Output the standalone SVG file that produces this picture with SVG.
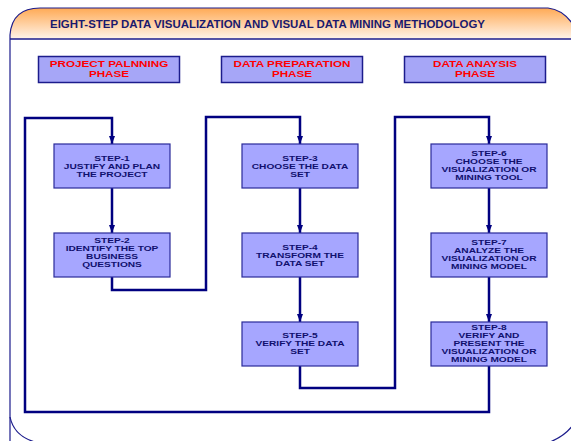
<svg xmlns="http://www.w3.org/2000/svg" width="571" height="441" viewBox="0 0 571 441">
<defs>
  <linearGradient id="hdr" x1="0" y1="0" x2="0" y2="1">
    <stop offset="0" stop-color="#ffaa55"/>
    <stop offset="1" stop-color="#fff4ea"/>
  </linearGradient>
  <marker id="arr" markerWidth="8" markerHeight="6" refX="8" refY="3" orient="auto" markerUnits="userSpaceOnUse">
    <path d="M0,0 L8,3 L0,6 Z" fill="#000080"/>
  </marker>
</defs>
<style>
  .frame{fill:none;stroke:#1c1c8c;stroke-width:1.2}
  .title{font-family:"Liberation Sans",Arial,sans-serif;font-weight:bold;font-size:10px;fill:#1a1a6e}
  .phase rect{fill:#a6a6f7;stroke:#1c1c8c;stroke-width:1.5}
  .phase text{font-family:"Liberation Sans",Arial,sans-serif;font-weight:bold;font-size:9px;fill:#ff0000;text-anchor:middle}
  .step rect{fill:#a6a6ff;stroke:#2a2a99;stroke-width:1.2}
  .step text{font-family:"Liberation Sans",Arial,sans-serif;font-weight:bold;font-size:8px;fill:#10106e;text-anchor:middle}
  .conn path{fill:none;stroke:#000080;stroke-width:2.5}
</style>
<rect width="571" height="441" fill="#ffffff"/>
<g id="frame">
  <path d="M10,39 L10,35 Q12,8 40,8 L548,8 Q565,10 575,28 L575,39 Z" fill="url(#hdr)" stroke="none"/>
  <path class="frame" d="M10,441 L10,39 L10,35 Q12,8 40,8 L548,8 Q565,10 575,28"/>
  <path class="frame" d="M10,417 Q14,436 35,442"/>
  <path class="frame" d="M550,442 Q565,436 573,425"/>
  <line x1="10" y1="39" x2="571" y2="39" stroke="#1c1c8c" stroke-width="1.5"/>
  <text class="title" x="50" y="27.5" textLength="435" lengthAdjust="spacingAndGlyphs">EIGHT-STEP DATA VISUALIZATION AND VISUAL DATA MINING METHODOLOGY</text>
</g>
<g id="phase1" class="phase">
  <rect x="38.5" y="56.5" width="141" height="26"/>
  <g transform="translate(109,0) scale(1.3,1)"><text x="0" y="67.3">PROJECT PALNNING</text><text x="0" y="76.6">PHASE</text></g>
</g>
<g id="phase2" class="phase">
  <rect x="221.5" y="56.5" width="141" height="26"/>
  <g transform="translate(292,0) scale(1.3,1)"><text x="0" y="67.3">DATA PREPARATION</text><text x="0" y="76.6">PHASE</text></g>
</g>
<g id="phase3" class="phase">
  <rect x="404.5" y="56.5" width="141" height="26"/>
  <g transform="translate(475,0) scale(1.3,1)"><text x="0" y="67.3">DATA ANAYSIS</text><text x="0" y="76.6">PHASE</text></g>
</g>
<g class="conn" id="connectors">
  <path d="M489,366 L489,412 L25,412 L25,118 L112,118 L112,144" marker-end="url(#arr)"/>
  <path d="M112,188 L112,233" marker-end="url(#arr)"/>
  <path d="M112,277 L112,290 L206,290 L206,117 L300,117 L300,144" marker-end="url(#arr)"/>
  <path d="M300,188 L300,233" marker-end="url(#arr)"/>
  <path d="M300,277 L300,322" marker-end="url(#arr)"/>
  <path d="M300,366 L300,388 L395,388 L395,117 L489,117 L489,144" marker-end="url(#arr)"/>
  <path d="M489,188 L489,233" marker-end="url(#arr)"/>
  <path d="M489,277 L489,322" marker-end="url(#arr)"/>
</g>
<g id="step1" class="step">
  <rect x="54" y="144" width="116" height="44"/>
  <g transform="translate(112,0) scale(1.27,1)"><text x="0" y="161">STEP-1</text><text x="0" y="168.8">JUSTIFY AND PLAN</text><text x="0" y="176.6">THE PROJECT</text></g>
</g>
<g id="step2" class="step">
  <rect x="54" y="233" width="116" height="44"/>
  <g transform="translate(112,0) scale(1.27,1)"><text x="0" y="243.5">STEP-2</text><text x="0" y="251.3">IDENTIFY THE TOP</text><text x="0" y="259.1">BUSINESS</text><text x="0" y="266.9">QUESTIONS</text></g>
</g>
<g id="step3" class="step">
  <rect x="242" y="144" width="116" height="44"/>
  <g transform="translate(300,0) scale(1.27,1)"><text x="0" y="161">STEP-3</text><text x="0" y="168.8">CHOOSE THE DATA</text><text x="0" y="176.6">SET</text></g>
</g>
<g id="step4" class="step">
  <rect x="242" y="233" width="116" height="44"/>
  <g transform="translate(300,0) scale(1.27,1)"><text x="0" y="250">STEP-4</text><text x="0" y="257.8">TRANSFORM THE</text><text x="0" y="265.6">DATA SET</text></g>
</g>
<g id="step5" class="step">
  <rect x="242" y="322" width="116" height="44"/>
  <g transform="translate(300,0) scale(1.27,1)"><text x="0" y="338">STEP-5</text><text x="0" y="345.8">VERIFY THE DATA</text><text x="0" y="353.6">SET</text></g>
</g>
<g id="step6" class="step">
  <rect x="431" y="144" width="116" height="44"/>
  <g transform="translate(489,0) scale(1.27,1)"><text x="0" y="156.5">STEP-6</text><text x="0" y="164.3">CHOOSE THE</text><text x="0" y="172.1">VISUALIZATION OR</text><text x="0" y="179.9">MINING TOOL</text></g>
</g>
<g id="step7" class="step">
  <rect x="431" y="233" width="116" height="44"/>
  <g transform="translate(489,0) scale(1.27,1)"><text x="0" y="245.5">STEP-7</text><text x="0" y="253.3">ANALYZE THE</text><text x="0" y="261.1">VISUALIZATION OR</text><text x="0" y="268.9">MINING MODEL</text></g>
</g>
<g id="step8" class="step">
  <rect x="431" y="322" width="116" height="44"/>
  <g transform="translate(489,0) scale(1.27,1)"><text x="0" y="330.5">STEP-8</text><text x="0" y="338.3">VERIFY AND</text><text x="0" y="346.1">PRESENT THE</text><text x="0" y="353.9">VISUALIZATION OR</text><text x="0" y="361.7">MINING MODEL</text></g>
</g>
</svg>
